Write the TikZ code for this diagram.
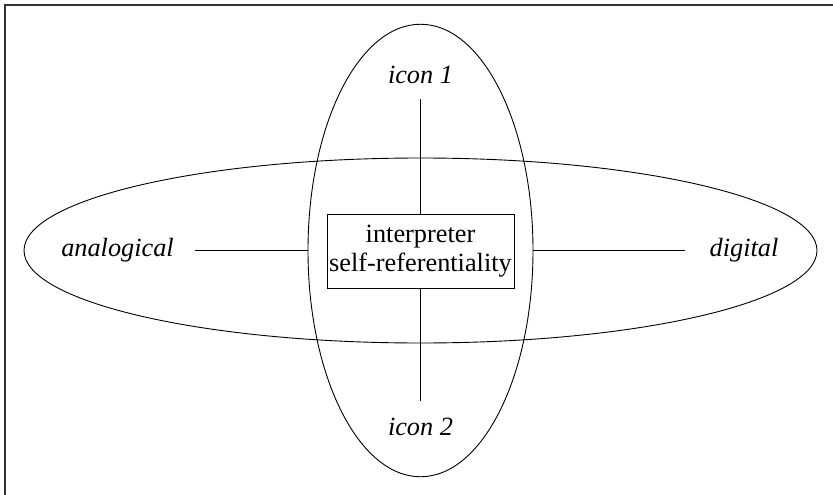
\documentclass[tikz,border=0pt]{standalone}
\usepackage{fontspec}
\setmainfont{Liberation Serif}
\usetikzlibrary{shapes.geometric}
\begin{document}
\begin{tikzpicture}[x=1pt,y=-1pt,
  lbl/.style={font=\fontsize{26.3}{29}\selectfont\itshape, inner sep=0pt},
  oval/.style={draw, ellipse, inner sep=0pt, line width=0.9pt},
  centrebox/.style={draw, line width=0.9pt, align=center, minimum width=187pt,
    minimum height=74pt, inner sep=0pt, font=\fontsize{26.3}{29}\selectfont},
  spoke/.style={line width=0.9pt},
  frameline/.style={line width=1.4pt, draw=black!80}]
  \useasboundingbox (0,0) rectangle (833,495);
  % frame: top and left edges only
  \coordinate (fa) at (5,495);
  \coordinate (fb) at (5,5);
  \coordinate (fc) at (833,5);
  \draw[frameline] (fa) -- (fb) -- (fc);
  % the two ovals
  \node[oval, minimum width=793pt, minimum height=185pt] (eh) at (420.5,250.5) {};
  \node[oval, minimum width=225pt, minimum height=452.5pt] (ev) at (420.5,250.5) {};
  % centre box
  \node[centrebox, fill=white] (c) at (420.5,251) {interpreter\\self-referentiality};
  % labels
  \node[lbl] (i1) at (420.5,75) {icon 1};
  \node[lbl] (i2) at (420.5,427) {icon 2};
  \node[lbl] (an) at (117.5,250) {analogical};
  \node[lbl] (dg) at (744,250) {digital};
  % spoke ends
  \coordinate (t1) at (420.5,99);
  \coordinate (b1) at (420.5,401);
  \coordinate (l1) at (195,250.5);
  \coordinate (r1) at (685,250.5);
  \draw[spoke] (t1) -- (c.north);
  \draw[spoke] (c.south) -- (b1);
  \draw[spoke] (l1) -- (ev.west);
  \draw[spoke] (ev.east) -- (r1);
\end{tikzpicture}
\end{document}
